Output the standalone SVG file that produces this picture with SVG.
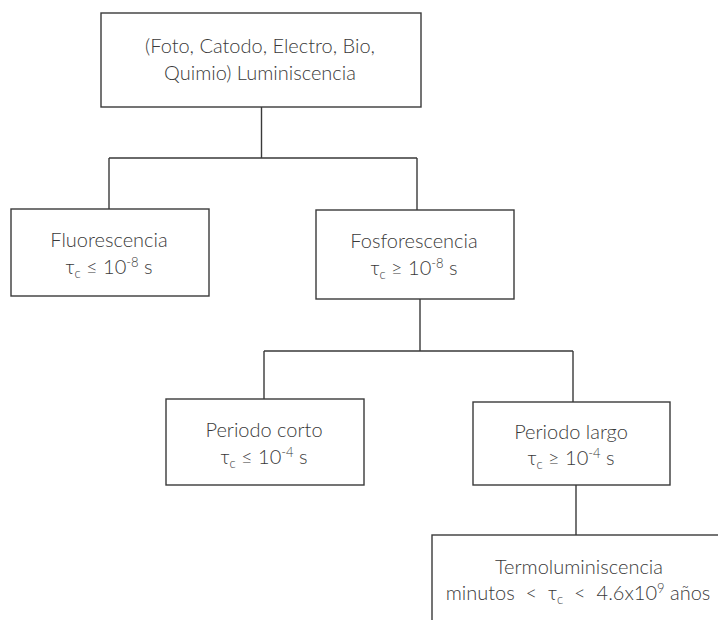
<svg xmlns="http://www.w3.org/2000/svg" width="718" height="620" viewBox="0 0 718 620">
<style>
.box{fill:#fff;stroke:#3a3a3a;stroke-width:1.4}
.ln{fill:none;stroke:#3a3a3a;stroke-width:1.4}
text{font-family:Lato,"Open Sans","Liberation Sans",sans-serif;font-weight:300;font-size:20px;fill:#3a3a3a;text-anchor:middle;white-space:pre}
.sup{font-size:13px}
.sub{font-size:13px}
</style>
<rect width="718" height="620" fill="#fff"/>
<g id="connectors">
<path class="ln" d="M261.5,107 V158 M109,158 H417 M109,158 V209 M417,158 V210"/>
<path class="ln" d="M420,299 V351 M264,351 H573 M264,351 V399 M573,351 V402"/>
<path class="ln" d="M576,485 V535"/>
</g>
<g id="n-luminiscencia">
<rect class="box" x="101" y="13" width="320" height="94"/>
<text x="260" y="53">(Foto, Catodo, Electro, Bio,</text>
<text x="260" y="80">Quimio) Luminiscencia</text>
</g>
<g id="n-fluorescencia">
<rect class="box" x="11" y="209" width="198" height="87"/>
<text x="109" y="247">Fluorescencia</text>
<text x="109" y="274">τ<tspan class="sub" dy="4">c</tspan><tspan dy="-4"> ≤ 10</tspan><tspan class="sup" dy="-7">-8</tspan><tspan dy="7"> s</tspan></text>
</g>
<g id="n-fosforescencia">
<rect class="box" x="316" y="210" width="198" height="89"/>
<text x="414" y="248">Fosforescencia</text>
<text x="414" y="275">τ<tspan class="sub" dy="4">c</tspan><tspan dy="-4"> ≥ 10</tspan><tspan class="sup" dy="-7">-8</tspan><tspan dy="7"> s</tspan></text>
</g>
<g id="n-corto">
<rect class="box" x="166" y="399" width="198" height="86"/>
<text x="264" y="437">Periodo corto</text>
<text x="264" y="464">τ<tspan class="sub" dy="4">c</tspan><tspan dy="-4"> ≤ 10</tspan><tspan class="sup" dy="-7">-4</tspan><tspan dy="7"> s</tspan></text>
</g>
<g id="n-largo">
<rect class="box" x="473" y="402" width="197" height="83"/>
<text x="571" y="439">Periodo largo</text>
<text x="571" y="465">τ<tspan class="sub" dy="4">c</tspan><tspan dy="-4"> ≥ 10</tspan><tspan class="sup" dy="-7">-4</tspan><tspan dy="7"> s</tspan></text>
</g>
<g id="n-termo">
<rect class="box" x="432" y="535" width="300" height="100"/>
<text x="579" y="574">Termoluminiscencia</text>
<text x="578" y="600">minutos  &lt;  τ<tspan class="sub" dy="4">c</tspan><tspan dy="-4">  &lt;  4.6x10</tspan><tspan class="sup" dy="-7">9</tspan><tspan dy="7"> años</tspan></text>
</g>
</svg>
